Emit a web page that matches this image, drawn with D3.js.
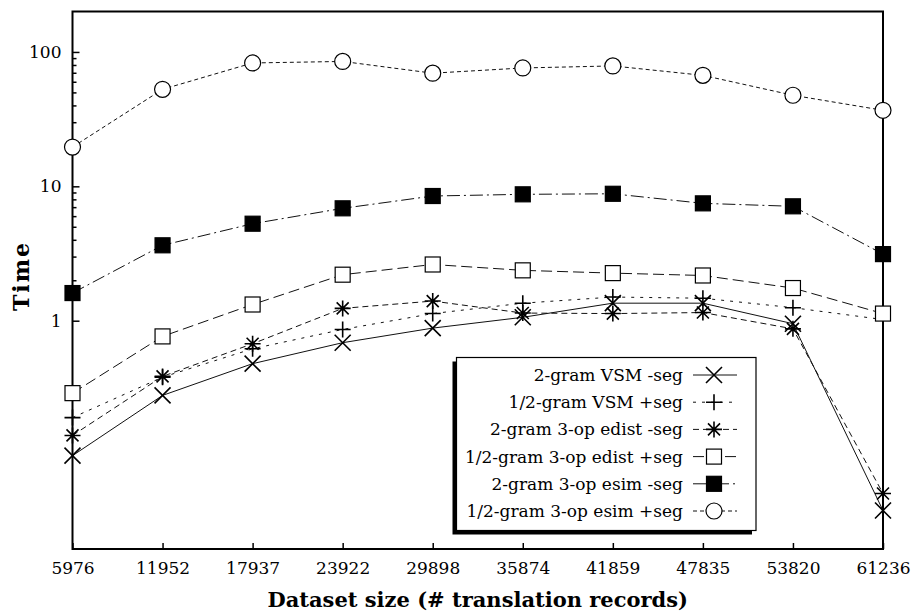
<!DOCTYPE html>
<html>
<head>
<meta charset="utf-8">
<script src="https://cdn.jsdelivr.net/npm/d3@7"></script>
<style>
  body { margin: 0; background: #fff; }
  text { font-family: "DejaVu Serif", serif; fill: #000; }
</style>
</head>
<body>
<svg class="js-chart"></svg>
<script>
/* global d3 */
var sizes = ["5976", "11952", "17937", "23922", "29898", "35874", "41859", "47835", "53820", "61236"];
var yTickValues = [1, 10, 100];

var vsmMinusSeg   = [0.099, 0.278, 0.479, 0.686, 0.881, 1.06, 1.35, 1.35, 0.95, 0.0387];
var vsmPlusSeg    = [0.19, 0.38, 0.618, 0.861, 1.13, 1.35, 1.50, 1.47, 1.25, 1.02];
var edistMinusSeg = [0.14, 0.385, 0.674, 1.235, 1.40, 1.14, 1.13, 1.15, 0.87, 0.0518];
var edistPlusSeg  = [0.289, 0.764, 1.32, 2.20, 2.62, 2.37, 2.26, 2.17, 1.75, 1.13];
var esimMinusSeg  = [1.606, 3.64, 5.27, 6.86, 8.47, 8.72, 8.8, 7.47, 7.1, 3.13];
var esimPlusSeg   = [19.6, 52.7, 82.8, 85, 69.5, 76, 78.7, 67, 47.6, 36.8];

var series = [
    { name: "2-gram VSM -seg",          values: vsmMinusSeg,   marker: "x",      dash: null },
    { name: "1/2-gram VSM +seg",        values: vsmPlusSeg,    marker: "plus",   dash: "3,6" },
    { name: "2-gram 3-op edist -seg",   values: edistMinusSeg, marker: "star",   dash: "6,4" },
    { name: "1/2-gram 3-op edist +seg", values: edistPlusSeg,  marker: "square", dash: "11,5" },
    { name: "2-gram 3-op esim -seg",    values: esimMinusSeg,  marker: "filled", dash: "13,4,2,4" },
    { name: "1/2-gram 3-op esim +seg",  values: esimPlusSeg,   marker: "circle", dash: "4,3" }
];

var W = 913, H = 616;
var plot = { left: 72.5, right: 883, top: 11.5, bottom: 549 };

var svg = d3.select(".js-chart").attr("width", W).attr("height", H);

var x = d3.scalePoint().domain(sizes).range([plot.left, plot.right]);
var y = d3.scaleLog().domain([0.02, 200]).range([plot.bottom, plot.top]);

// minor ticks between the labelled decades
var minor = [];
[1, 10].forEach(function (d) {
    for (var k = 2; k <= 9; k++) minor.push(d * k);
});

var yAxis = d3.axisLeft(y).tickValues(yTickValues).tickFormat(d3.format("d"))
    .tickSizeInner(-7).tickSizeOuter(0).tickPadding(11);
var yMinor = d3.axisLeft(y).tickValues(minor).tickFormat("")
    .tickSizeInner(-4).tickSizeOuter(0);
var xAxis = d3.axisBottom(x).tickSizeInner(-6).tickSizeOuter(0).tickPadding(13);

function styleAxis(g) {
    g.select(".domain").remove();
    g.selectAll("line").attr("stroke", "#000").attr("stroke-width", 1.5);
    g.selectAll("text")
        .attr("font-family", null)
        .attr("fill", "#000")
        .style("font-family", "DejaVu Serif")
        .style("font-size", "17px");
}

svg.append("g").attr("transform", "translate(" + plot.left + ",0)").call(yAxis).call(styleAxis);
svg.append("g").attr("transform", "translate(" + plot.left + ",0)").call(yMinor).call(styleAxis);
svg.append("g").attr("transform", "translate(0," + plot.bottom + ")").call(xAxis).call(styleAxis);

// frame
svg.append("rect")
    .attr("x", plot.left).attr("y", plot.top)
    .attr("width", plot.right - plot.left).attr("height", plot.bottom - plot.top)
    .attr("fill", "none").attr("stroke", "#000").attr("stroke-width", 2);

// markers
function drawMarker(g, type) {
    var s = 8;
    if (type === "x") {
        g.append("path").attr("d", "M" + (-s) + "," + (-s) + "L" + s + "," + s + "M" + (-s) + "," + s + "L" + s + "," + (-s))
            .attr("stroke", "#000").attr("stroke-width", 1.6).attr("fill", "none");
    } else if (type === "plus") {
        g.append("path").attr("d", "M" + (-s) + ",0L" + s + ",0M0," + (-s) + "L0," + s)
            .attr("stroke", "#000").attr("stroke-width", 1.6).attr("fill", "none");
    } else if (type === "star") {
        var d = 6;
        g.append("path").attr("d", "M" + (-s) + ",0L" + s + ",0M0," + (-s) + "L0," + s +
            "M" + (-d) + "," + (-d) + "L" + d + "," + d + "M" + (-d) + "," + d + "L" + d + "," + (-d))
            .attr("stroke", "#000").attr("stroke-width", 1.6).attr("fill", "none");
    } else if (type === "square" || type === "filled") {
        g.append("rect").attr("x", -7.5).attr("y", -7.5).attr("width", 15).attr("height", 15)
            .attr("fill", type === "filled" ? "#000" : "#fff")
            .attr("stroke", "#000").attr("stroke-width", 1.2);
    } else if (type === "circle") {
        g.append("circle").attr("r", 8).attr("fill", "#fff")
            .attr("stroke", "#000").attr("stroke-width", 1.2);
    }
}

var line = d3.line()
    .x(function (d, i) { return x(sizes[i]); })
    .y(function (d) { return y(d); });

series.forEach(function (s) {
    svg.append("path")
        .datum(s.values)
        .attr("d", line)
        .attr("fill", "none")
        .attr("stroke", "#111")
        .attr("stroke-width", 1)
        .attr("stroke-dasharray", s.dash);
});

series.forEach(function (s) {
    s.values.forEach(function (v, i) {
        var g = svg.append("g").attr("transform", "translate(" + x(sizes[i]) + "," + y(v) + ")");
        drawMarker(g, s.marker);
    });
});

// legend
var legend = { x: 456.5, y: 357.5, w: 299.5, h: 173, row: 27.2, first: 375 };
svg.append("rect")
    .attr("x", legend.x - 4).attr("y", legend.y + 4)
    .attr("width", legend.w).attr("height", legend.h)
    .attr("fill", "#000");
svg.append("rect")
    .attr("x", legend.x).attr("y", legend.y)
    .attr("width", legend.w).attr("height", legend.h)
    .attr("fill", "#fff").attr("stroke", "#000").attr("stroke-width", 1.2);

series.forEach(function (s, i) {
    var cy = legend.first + i * legend.row;
    svg.append("text")
        .attr("x", 683).attr("y", cy)
        .attr("dy", "0.35em")
        .attr("text-anchor", "end")
        .attr("fill", "#000")
        .style("font-size", "17px")
        .text(s.name);
    svg.append("line")
        .attr("x1", 693).attr("x2", 737).attr("y1", cy).attr("y2", cy)
        .attr("stroke", "#111").attr("stroke-width", 1)
        .attr("stroke-dasharray", s.dash);
    drawMarker(svg.append("g").attr("transform", "translate(714," + cy + ")"), s.marker);
});

// axis titles
svg.append("text")
    .attr("transform", "translate(29,276) rotate(-90)")
    .attr("text-anchor", "middle")
    .attr("fill", "#000")
    .style("font-size", "22px").style("font-weight", "bold")
    .style("letter-spacing", "2px")
    .text("Time");

svg.append("text")
    .attr("x", (plot.left + plot.right) / 2).attr("y", 607)
    .attr("text-anchor", "middle")
    .attr("fill", "#000")
    .style("font-size", "21px").style("font-weight", "bold")
    .text("Dataset size (# translation records)");
</script>
</body>
</html>
